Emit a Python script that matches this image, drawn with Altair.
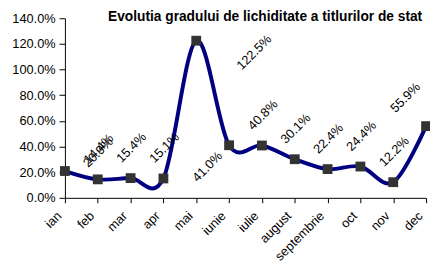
import math
import altair as alt
import pandas as pd

months = ["ian", "feb", "mar", "apr", "mai", "iunie", "iulie", "august",
          "septembrie", "oct", "nov", "dec"]
values = [20.9, 14.4, 15.4, 15.1, 122.5, 41.0, 40.8, 30.1, 22.4, 24.4, 12.2, 55.9]
labels = ["20.9%", "14.4%", "15.4%", "15.1%", "122.5%", "41.0%", "40.8%",
          "30.1%", "22.4%", "24.4%", "12.2%", "55.9%"]
title_text = "Evolutia gradului de lichiditate a titlurilor de stat"

df = pd.DataFrame({"luna": months, "v": [x / 100 for x in values], "lab": labels})

FONT = "Liberation Sans"

x = alt.X("luna:N", sort=months,
          scale=alt.Scale(type="point", padding=0),
          axis=alt.Axis(title=None, labelAngle=-45, labelAlign="right",
                        labelBaseline="middle", labelPadding=11, labelOffset=-6,
                        tickSize=5, labelFontSize=13, labelFont=FONT, labelColor="#000",
                        domainColor="#000", tickColor="#000", grid=False))
y = alt.Y("v:Q", scale=alt.Scale(domain=[0, 1.4], nice=False),
          axis=alt.Axis(title=None, format=".1%", values=[0, .2, .4, .6, .8, 1.0, 1.2, 1.4],
                        tickSize=6, labelFontSize=13, labelFont=FONT, labelColor="#000",
                        labelPadding=4, domainColor="#000", tickColor="#000", grid=False))

base = alt.Chart(df)

line = base.mark_line(color="#000080", strokeWidth=4, interpolate="cardinal").encode(x=x, y=y)
pts = base.mark_point(shape="square", filled=True, color="#333333", size=100, opacity=1).encode(x=x, y=y)

C = math.sqrt(0.5)


def lbl(filter_expr, sx, sy):
    # screen offset (sx, sy) -> offsets in the text's rotated frame (angle -45)
    dx = C * (sx - sy)
    dy = C * (sx + sy)
    return base.transform_filter(filter_expr).mark_text(
        angle=315, font=FONT, fontSize=13, color="#000", align="center",
        baseline="middle", dx=dx, dy=dy).encode(x=x, y=y, text="lab:N")


special = ["ian", "mai", "iunie", "dec"]
normal = lbl(alt.FieldOneOfPredicate(field="luna", oneOf=[m for m in months if m not in special]), 1, -31)
l_ian = lbl(alt.FieldEqualPredicate(field="luna", equal="ian"), 34, -19)
l_mai = lbl(alt.FieldEqualPredicate(field="luna", equal="mai"), 59, 12)
l_iun = lbl(alt.FieldEqualPredicate(field="luna", equal="iunie"), -22, 22)
l_dec = lbl(alt.FieldEqualPredicate(field="luna", equal="dec"), -21, -29)

title = alt.Chart(pd.DataFrame({"t": [title_text]})).mark_text(
    font=FONT, fontSize=14, fontWeight="bold", color="#000", align="center",
    baseline="alphabetic").encode(x=alt.value(204), y=alt.value(3), text="t:N")

chart = alt.layer(line, pts, normal, l_ian, l_mai, l_iun, l_dec, title).properties(
    width=368, height=183,
    autosize=alt.AutoSizeParams(type="none"),
    padding={"left": 58, "top": 8, "right": 4, "bottom": 66},
    background="white",
).configure_view(stroke=None)

chart.save("out.html", embed_options={"renderer": "svg", "actions": False})
